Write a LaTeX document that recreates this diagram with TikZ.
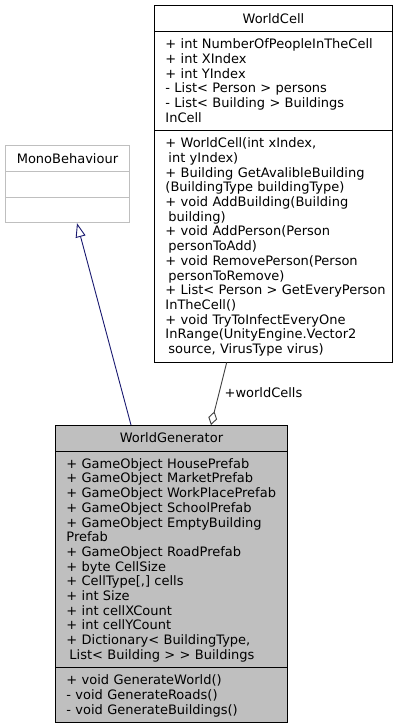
\documentclass[tikz,border=0pt]{standalone}
\usepackage{fontspec}
\setmainfont{DejaVu Sans}
\usetikzlibrary{arrows.meta,positioning,shapes.multipart}

\definecolor{inhcolor}{HTML}{191970}
\definecolor{aggcolor}{HTML}{404040}
\definecolor{mainfill}{HTML}{BFBFBF}
\definecolor{extborder}{HTML}{BFBFBF}

% one member line of a class box
\newcommand{\ls}{\rule[-3pt]{0pt}{14.7pt}}
\newcommand{\mem}[1]{\mbox{\ls#1}}
\newcommand{\ind}{\hspace*{3pt}}
% centred class name
\newcommand{\cname}[1]{\makebox[\hsize]{\ls#1}}

\begin{document}
\begin{tikzpicture}[x=1pt,y=-1pt,>=Latex,font={\fontsize{13}{14.7}\selectfont}]
  \tikzstyle{umlclass}=[rectangle split,rectangle split parts=3,draw=black,line width=0.9pt,align=left,inner xsep=11pt,inner ysep=5pt]
  \tikzstyle{inherit}=[draw=inhcolor,line width=0.9pt,-{Triangle[open,length=14pt,width=10pt]}]
  \tikzstyle{aggr}=[draw=aggcolor,line width=0.9pt,-{Diamond[open,length=14pt,width=9pt]}]
  \useasboundingbox (0,0) rectangle (402,727);

  \node[umlclass,text width=216pt,anchor=north west] (cell) at (154,5.5) {%
    \cname{WorldCell}
    \nodepart{two}
    \mem{+ int NumberOfPeopleInTheCell}\\
    \mem{+ int XIndex}\\
    \mem{+ int YIndex}\\
    \mem{- List< Person > persons}\\
    \mem{- List< Building > Buildings}\\
    \mem{InCell}
    \nodepart{three}
    \mem{+ WorldCell(int xIndex,}\\
    \mem{\ind int yIndex)}\\
    \mem{+ Building GetAvalibleBuilding}\\
    \mem{(BuildingType buildingType)}\\
    \mem{+ void AddBuilding(Building}\\
    \mem{\ind building)}\\
    \mem{+ void AddPerson(Person}\\
    \mem{\ind personToAdd)}\\
    \mem{+ void RemovePerson(Person}\\
    \mem{\ind personToRemove)}\\
    \mem{+ List< Person > GetEveryPerson}\\
    \mem{InTheCell()}\\
    \mem{+ void TryToInfectEveryOne}\\
    \mem{InRange(UnityEngine.Vector2}\\
    \mem{\ind source, VirusType virus)}};

  \node[umlclass,draw=extborder,text width=102pt,anchor=north west] (mono) at (5,145.5) {%
    \cname{MonoBehaviour}
    \nodepart{two}\mem{}
    \nodepart{three}\mem{}};

  \node[umlclass,fill=mainfill,text width=210pt,anchor=north west] (gen) at (55,425) {%
    \cname{WorldGenerator}
    \nodepart{two}
    \mem{+ GameObject HousePrefab}\\
    \mem{+ GameObject MarketPrefab}\\
    \mem{+ GameObject WorkPlacePrefab}\\
    \mem{+ GameObject SchoolPrefab}\\
    \mem{+ GameObject EmptyBuilding}\\
    \mem{Prefab}\\
    \mem{+ GameObject RoadPrefab}\\
    \mem{+ byte CellSize}\\
    \mem{+ CellType[,] cells}\\
    \mem{+ int Size}\\
    \mem{+ int cellXCount}\\
    \mem{+ int cellYCount}\\
    \mem{+ Dictionary< BuildingType,}\\
    \mem{\ind List< Building > > Buildings}
    \nodepart{three}
    \mem{+ void GenerateWorld()}\\
    \mem{- void GenerateRoads()}\\
    \mem{- void GenerateBuildings()}};

  \draw[inherit] ([xshift=76pt]gen.north west) -- ([xshift=72pt]mono.south west);
  \draw[aggr] ([xshift=72.7pt]cell.south west) -- node[pos=0.48,right=5pt,inner sep=0pt] (lblcells) {+worldCells} ([xshift=156pt]gen.north west);
\end{tikzpicture}
\end{document}
